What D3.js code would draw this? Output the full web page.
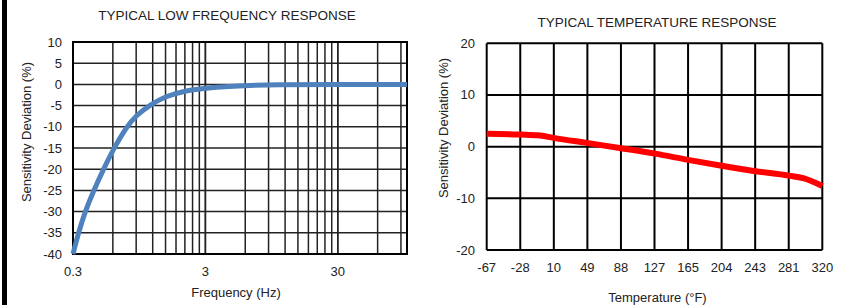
<!DOCTYPE html>
<html>
<head>
<meta charset="utf-8">
<script src="https://cdn.jsdelivr.net/npm/d3@7"></script>
<style>
  body { margin: 0; background: #fff; }
  svg { display: block; font-family: "Liberation Sans", Arial, sans-serif; }
  text { fill: #222; }
</style>
</head>
<body>
<svg id="chart" width="842" height="305"></svg>
<script>
"use strict";

// low frequency response
var freqHz  = [0.3, 0.33, 0.37, 0.43, 0.51, 0.6, 0.76, 0.9, 1.15, 1.5, 2.1, 3, 6, 10, 30, 100];
var freqDev = [-40, -35, -30, -25, -20, -15.5, -10, -7.3, -4.8, -2.8, -1.5, -0.8, -0.25, -0.1, 0, 0];
var freqTickLabels = [0.3, 3, 30];
var freqDevTicks = [10, 5, 0, -5, -10, -15, -20, -25, -30, -35, -40];

// temperature response
var tempF   = [-67, -28, -7.5, 10, 49, 88, 127, 165, 204, 243, 281, 298, 320];
var tempDev = [2.5, 2.35, 2.2, 1.7, 0.7, -0.3, -1.35, -2.55, -3.7, -4.75, -5.6, -6.1, -7.6];
var tempTickLabels = ["-67", "-28", "10", "49", "88", "127", "165", "204", "243", "281", "320"];
var tempDevTicks = [20, 10, 0, -10, -20];

var svg = d3.select("#chart");

// black bar on the left edge
svg.append("rect").attr("x", 2).attr("y", 0).attr("width", 5).attr("height", 305).attr("fill", "#000");

// ---------- left chart ----------
var x1 = d3.scaleLog().domain([0.3, 100]).range([73, 407]);
var y1 = d3.scaleLinear().domain([-40, 10]).range([254, 42]);

// grid at every multiple of the decade start
var grid1 = [];
[0.3, 3, 30].forEach(function(b) {
	for (var k = 1; k <= 10; k++) {
		var v = +(b * k).toFixed(4);
		if (v <= 100) grid1.push(v);
	}
});

var g1 = svg.append("g");
g1.selectAll(".vg").data(grid1).enter().append("line")
	.attr("x1", function(d) { return x1(d); }).attr("x2", function(d) { return x1(d); })
	.attr("y1", y1(10)).attr("y2", y1(-40))
	.attr("stroke", "#222").attr("stroke-width", 1.5);
g1.selectAll(".hg").data(freqDevTicks).enter().append("line")
	.attr("x1", x1(0.3)).attr("x2", x1(100))
	.attr("y1", function(d) { return y1(d); }).attr("y2", function(d) { return y1(d); })
	.attr("stroke", "#222").attr("stroke-width", 1.5);
g1.append("rect")
	.attr("x", x1(0.3)).attr("y", y1(10))
	.attr("width", x1(100) - x1(0.3)).attr("height", y1(-40) - y1(10))
	.attr("fill", "none").attr("stroke", "#000").attr("stroke-width", 2);

var line1 = d3.line()
	.x(function(d, i) { return x1(freqHz[i]); })
	.y(function(d) { return y1(d); })
	.curve(d3.curveBasis);
g1.append("path").datum(freqDev)
	.attr("d", line1)
	.attr("fill", "none").attr("stroke", "#4F81BD").attr("stroke-width", 5);

g1.selectAll(".yl").data(freqDevTicks).enter().append("text")
	.attr("x", 62).attr("y", function(d) { return y1(d) + 4.5; })
	.attr("text-anchor", "end").attr("font-size", 13)
	.text(function(d) { return d; });
g1.selectAll(".xl").data(freqTickLabels).enter().append("text")
	.attr("x", function(d) { return x1(d); }).attr("y", 275.5)
	.attr("text-anchor", "middle").attr("font-size", 13)
	.text(function(d) { return d; });

g1.append("text").attr("x", 227).attr("y", 20).attr("text-anchor", "middle")
	.attr("font-size", 13.5).text("TYPICAL LOW FREQUENCY RESPONSE");
g1.append("text").attr("x", 236).attr("y", 296.5).attr("text-anchor", "middle")
	.attr("font-size", 13).text("Frequency (Hz)");
g1.append("text").attr("transform", "translate(31,132) rotate(-90)")
	.attr("text-anchor", "middle").attr("font-size", 13)
	.text("Sensitivity Deviation (%)");

// ---------- right chart ----------
var x2 = d3.scaleLinear().domain([-67, 320]).range([486.7, 822.3]);
var y2 = d3.scaleLinear().domain([-20, 20]).range([250, 43.3]);
var tempTickPos = tempTickLabels.map(function(d, i) { return -67 + i * 38.7; });

var g2 = svg.append("g");
g2.selectAll(".vg").data(tempTickPos).enter().append("line")
	.attr("x1", function(d) { return x2(d); }).attr("x2", function(d) { return x2(d); })
	.attr("y1", y2(20)).attr("y2", y2(-20))
	.attr("stroke", "#000").attr("stroke-width", 2);
g2.selectAll(".hg").data(tempDevTicks).enter().append("line")
	.attr("x1", x2(-67)).attr("x2", x2(320))
	.attr("y1", function(d) { return y2(d); }).attr("y2", function(d) { return y2(d); })
	.attr("stroke", "#000").attr("stroke-width", 2);

var line2 = d3.line()
	.x(function(d, i) { return x2(tempF[i]); })
	.y(function(d) { return y2(d); })
	.curve(d3.curveMonotoneX);
g2.append("path").datum(tempDev)
	.attr("d", line2)
	.attr("fill", "none").attr("stroke", "#FF0000").attr("stroke-width", 6);

g2.selectAll(".yl").data(tempDevTicks).enter().append("text")
	.attr("x", 475).attr("y", function(d) { return y2(d) + 4.5; })
	.attr("text-anchor", "end").attr("font-size", 13)
	.text(function(d) { return d; });
g2.selectAll(".xl").data(tempTickLabels).enter().append("text")
	.attr("x", function(d, i) { return x2(tempTickPos[i]); }).attr("y", 271.5)
	.attr("text-anchor", "middle").attr("font-size", 13)
	.text(function(d) { return d; });

g2.append("text").attr("x", 657).attr("y", 27.3).attr("text-anchor", "middle")
	.attr("font-size", 13.5).text("TYPICAL TEMPERATURE RESPONSE");
g2.append("text").attr("x", 657.5).attr("y", 301.5).attr("text-anchor", "middle")
	.attr("font-size", 13).text("Temperature (°F)");
g2.append("text").attr("transform", "translate(448,128) rotate(-90)")
	.attr("text-anchor", "middle").attr("font-size", 13)
	.text("Sensitivity Deviation (%)");
</script>
</body>
</html>
